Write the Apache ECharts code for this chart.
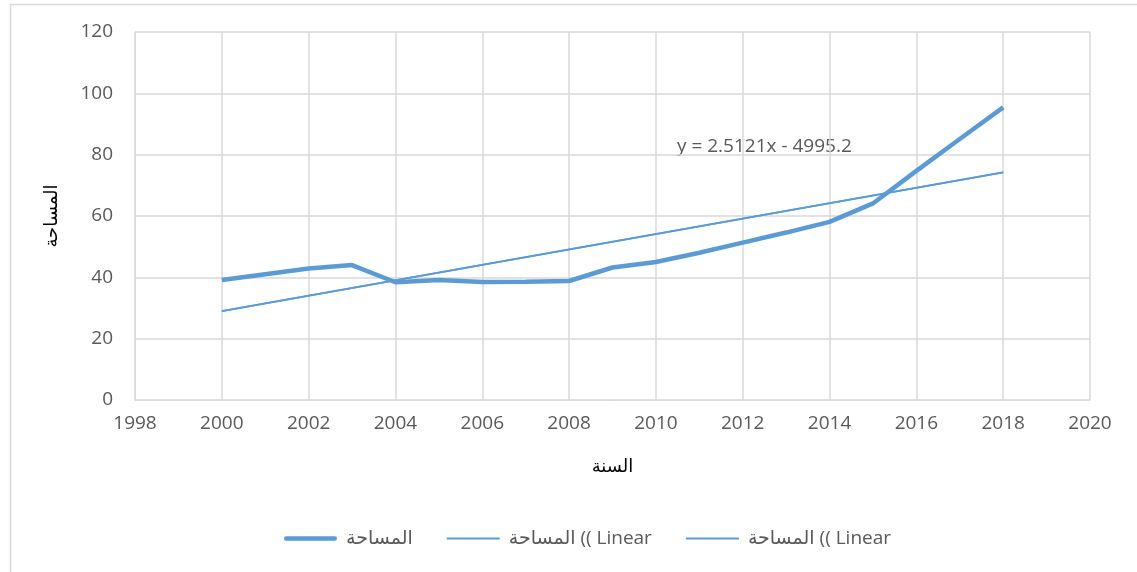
<!DOCTYPE html>
<html>
<head>
<meta charset="utf-8">
<script src="https://cdn.jsdelivr.net/npm/echarts@6/dist/echarts.min.js"></script>
<style>
html,body{margin:0;padding:0;background:#fff;}
#chart{width:1137px;height:572px;}
</style>
</head>
<body>
<div id="chart"></div>
<script>
const years = [2000,2001,2002,2003,2004,2005,2006,2007,2008,2009,2010,2011,2012,2013,2014,2015,2016,2017,2018];
const areaValues = [39.1,41.0,42.9,44.0,38.4,39.1,38.5,38.6,38.8,43.2,45.0,48.0,51.3,54.6,58.1,64.1,74.7,85.1,95.4];
const trendYears = [2000, 2018];
const trendValues = [29.0, 74.2];
const seriesName = 'المساحة';
const trendName1 = 'المساحة (( Linear';
const trendName2 = 'المساحة (( Linear\u200B';
const xAxisName = 'السنة';
const yAxisName = 'المساحة';
const equationText = 'y = 2.5121x - 4995.2';

const FONT = '"Open Sans", "DejaVu Sans", sans-serif';
const TXT = '#595959';
const GRID = '#d9d9d9';
const BLUE = '#5b9bd5';

const thickIcon = 'path://M4.5,0 H101.5 A4.5,4.5 0 0 1 101.5,9 H4.5 A4.5,4.5 0 0 1 4.5,0 Z';
const thinIcon = 'path://M0,0 H106 V4 H0 Z';

const chart = echarts.init(document.getElementById('chart'), null, {renderer:'canvas'});
const option = {
  backgroundColor:'#fff',
  animation:false,
  grid:{left:135, right:47, top:32, bottom:172, containLabel:false},
  legend:{
    show:true,
    top:524, left:279,
    itemWidth:53, itemHeight:14, itemGap:34,
    symbolKeepAspect:true,
    data:[
      {name:seriesName, icon:thickIcon, itemStyle:{color:BLUE}},
      {name:trendName1, icon:thinIcon, itemStyle:{color:BLUE}},
      {name:trendName2, icon:thinIcon, itemStyle:{color:BLUE}}
    ],
    textStyle:{fontFamily:FONT, fontSize:19, color:TXT, padding:[0,0,0,4]}
  },
  xAxis:{
    type:'value', min:1998, max:2020, interval:2,
    name:xAxisName, nameLocation:'middle', nameGap:58,
    nameTextStyle:{fontFamily:'"DejaVu Sans", sans-serif', fontSize:18, color:'#000'},
    axisLine:{show:true, lineStyle:{color:GRID, width:1}},
    axisTick:{show:false},
    axisLabel:{fontFamily:FONT, fontSize:19, color:TXT, margin:14, formatter:function(v){return String(v);}},
    splitLine:{show:true, lineStyle:{color:GRID, width:1.5}}
  },
  yAxis:{
    type:'value', min:0, max:120, interval:20,
    name:yAxisName, nameLocation:'middle', nameGap:74, nameRotate:90,
    nameTextStyle:{fontFamily:'"DejaVu Sans", sans-serif', fontSize:18, color:'#000'},
    axisLine:{show:true, lineStyle:{color:GRID, width:1}},
    axisTick:{show:false},
    axisLabel:{fontFamily:FONT, fontSize:19, color:TXT, margin:22},
    splitLine:{show:true, lineStyle:{color:GRID, width:1.5}}
  },
  graphic:[
    {type:'rect', left:8, top:2, shape:{width:1200, height:700}, style:{fill:'none', stroke:GRID, lineWidth:1.5}, silent:true, z:-1},
    {type:'text', left:677, top:137, style:{text:equationText, font:'19px "Open Sans", sans-serif', fill:TXT}}
  ],
  series:[
    {name:seriesName, type:'line', data:years.map((y,i)=>[y, areaValues[i]]),
      showSymbol:false, symbol:'none', lineStyle:{color:BLUE, width:4.5}, itemStyle:{color:BLUE}, z:3},
    {name:trendName1, type:'line', data:trendYears.map((y,i)=>[y, trendValues[i]]),
      showSymbol:false, symbol:'none', lineStyle:{color:BLUE, width:1.8}, itemStyle:{color:BLUE}, z:2},
    {name:trendName2, type:'line', data:trendYears.map((y,i)=>[y, trendValues[i]]),
      showSymbol:false, symbol:'none', lineStyle:{color:BLUE, width:1.8}, itemStyle:{color:BLUE}, z:2}
  ]
};
chart.setOption(option);
</script>
</body>
</html>
